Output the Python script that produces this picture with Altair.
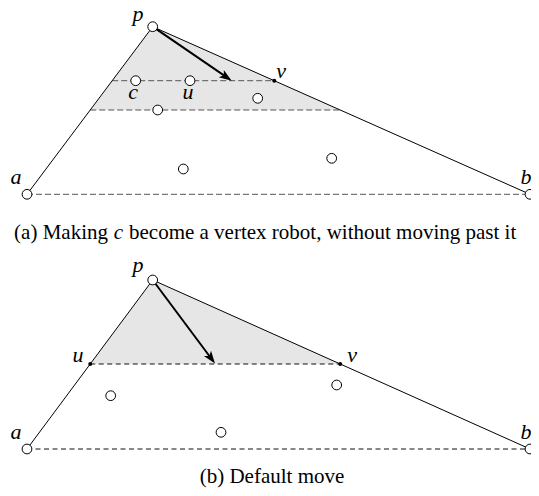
import math
import altair as alt
import pandas as pd

# ---------------- geometry (diagram units, y grows downward) ----------------
# panel (a)
a_corner_x = [27.0, 530.0, 152.7]   # a, b, p
a_corner_y = [194.3, 194.3, 26.7]
a_robot_x = [135.7, 190.0, 257.7, 157.7, 183.3, 331.7]
a_robot_y = [80.7, 80.7, 98.3, 110.0, 169.0, 158.3]
a_vertex_y = [80.7]           # v lies on edge p-b at this height
a_cut_levels = [80.7, 110.0]  # dashed cuts
a_shade_level = 110.0
a_arrow_end = [231.7, 80.7]

# panel (b)
b_corner_x = [27.0, 530.0, 152.7]
b_corner_y = [449.0, 449.0, 280.0]
b_robot_x = [110.7, 336.7, 221.0]
b_robot_y = [395.7, 385.0, 432.3]
b_cut_levels = [364.0]
b_shade_level = 364.0
b_arrow_end = [215.0, 363.5]

captions = ["(a) Making ", "c", " become a vertex robot, without moving past it", "(b) Default move"]


def on_edge(y, x0, y0, x1, y1):
    t = (y - y0) / (y1 - y0)
    return x0 + t * (x1 - x0)


shade_rows, solid_rows, dash_rows, arrow_rows, head_rows = [], [], [], [], []
robot_rows, vertex_rows = [], []


def build(panel, cx, cy, rx, ry, shade, arrow_end, vertex_cut):
    ax, bx, px = cx
    ay, by, py = cy
    shade_rows.append(dict(panel=panel, y=py, x=px, x2=px))
    shade_rows.append(dict(panel=panel, y=shade,
                           x=on_edge(shade, ax, ay, px, py),
                           x2=on_edge(shade, bx, by, px, py)))
    solid_rows.append(dict(x=ax, y=ay, x2=px, y2=py))
    solid_rows.append(dict(x=px, y=py, x2=bx, y2=by))
    dash_rows.append(dict(panel=panel, x=ax, y=ay, x2=bx, y2=by))
    ex, ey = arrow_end
    dx, dy = ex - px, ey - py
    L = math.hypot(dx, dy)
    ux, uy = dx / L, dy / L
    unit = 7.2
    hx, hy = ex - unit * ux, ey - unit * uy
    arrow_rows.append(dict(x=px, y=py, x2=hx, y2=hy))
    head_rows.append(dict(x=hx, y=hy, angle=math.degrees(math.atan2(dx, -dy))))
    for x, y in zip(cx + rx, cy + ry):
        robot_rows.append(dict(x=x, y=y))
    for lv, side in vertex_cut:
        if side == "left":
            vertex_rows.append(dict(x=on_edge(lv, ax, ay, px, py), y=lv))
        else:
            vertex_rows.append(dict(x=on_edge(lv, bx, by, px, py), y=lv))


build("a", a_corner_x, a_corner_y, a_robot_x, a_robot_y, a_shade_level,
      a_arrow_end, [(a_vertex_y[0], "right")])
build("b", b_corner_x, b_corner_y, b_robot_x, b_robot_y, b_shade_level,
      b_arrow_end, [(b_cut_levels[0], "left"), (b_cut_levels[0], "right")])

# panel (a) cuts: upper one runs from edge a-p to v, lower one spans the triangle
ax_, bx_, px_ = a_corner_x
ay_, by_, py_ = a_corner_y
lv0, lv1 = a_cut_levels
dash_rows.append(dict(panel="a", x=on_edge(lv0, ax_, ay_, px_, py_), y=lv0,
                      x2=on_edge(lv0, bx_, by_, px_, py_), y2=lv0))
dash_rows.append(dict(panel="a", x=on_edge(lv1, ax_, ay_, px_, py_), y=lv1,
                      x2=on_edge(lv1, bx_, by_, px_, py_), y2=lv1))
# panel (b) cut u-v
bl = b_cut_levels[0]
dash_rows.append(dict(panel="b",
                      x=on_edge(bl, b_corner_x[0], b_corner_y[0], b_corner_x[2], b_corner_y[2]), y=bl,
                      x2=on_edge(bl, b_corner_x[1], b_corner_y[1], b_corner_x[2], b_corner_y[2]), y2=bl))

# point labels (text, x, baseline y)
label_rows = [
    dict(t="p", x=138, y=21), dict(t="v", x=281, y=78), dict(t="c", x=133, y=99),
    dict(t="u", x=188, y=99), dict(t="a", x=16, y=184), dict(t="b", x=526, y=184),
    dict(t="p", x=138, y=272), dict(t="u", x=78, y=362), dict(t="v", x=352, y=362),
    dict(t="a", x=16, y=438.5), dict(t="b", x=526, y=438.5),
]

X = alt.Scale(domain=[8, 531], nice=False, zero=False)
Y = alt.Scale(domain=[8, 488], nice=False, zero=False, reverse=True)


def xe(f="x"):
    return alt.X(f"{f}:Q", scale=X, axis=None)


def ye(f="y"):
    return alt.Y(f"{f}:Q", scale=Y, axis=None)


shade = alt.Chart(pd.DataFrame(shade_rows)).mark_area(
    orient="horizontal", color="#e6e6e6", opacity=1
).encode(y=ye(), x=xe(), x2="x2:Q", detail="panel:N")

dfd = pd.DataFrame(dash_rows)
dash_a = alt.Chart(dfd[dfd.panel == "a"]).mark_rule(
    color="#555555", strokeDash=[6, 3], strokeWidth=1
).encode(x=xe(), y=ye(), x2="x2:Q", y2="y2:Q")
dash_b = alt.Chart(dfd[dfd.panel == "b"]).mark_rule(
    color="#111111", strokeDash=[5, 3.5], strokeWidth=1
).encode(x=xe(), y=ye(), x2="x2:Q", y2="y2:Q")

solid = alt.Chart(pd.DataFrame(solid_rows)).mark_rule(
    color="black", strokeWidth=1
).encode(x=xe(), y=ye(), x2="x2:Q", y2="y2:Q")

arrow = alt.Chart(pd.DataFrame(arrow_rows)).mark_rule(
    color="black", strokeWidth=2
).encode(x=xe(), y=ye(), x2="x2:Q", y2="y2:Q")

head = alt.Chart(pd.DataFrame(head_rows)).mark_point(
    shape="M0,-1 L0.62,0.75 L0,0.32 L-0.62,0.75 Z", filled=True, color="black",
    size=207, opacity=1, strokeWidth=0
).encode(x=xe(), y=ye(), angle=alt.Angle("angle:Q", scale=None))

robots = alt.Chart(pd.DataFrame(robot_rows)).mark_point(
    shape="circle", size=95, fill="white", stroke="black", strokeWidth=1, opacity=1,
    filled=False
).encode(x=xe(), y=ye())

vertices = alt.Chart(pd.DataFrame(vertex_rows)).mark_point(
    shape="circle", size=16, filled=True, color="black", opacity=1
).encode(x=xe(), y=ye())

labels = alt.Chart(pd.DataFrame(label_rows)).mark_text(
    font="Liberation Serif", fontStyle="italic", fontSize=22, baseline="alphabetic",
    align="center", color="black"
).encode(x=xe(), y=ye(), text="t:N")

FS = 21
cap_rows = [
    dict(t=captions[0].rstrip(), x=108, y=239, part="r"),
    dict(t=captions[2].lstrip(), x=129, y=239, part="l"),
    dict(t=captions[3], x=272, y=483, part="c"),
]
capdf = pd.DataFrame(cap_rows)
cap_r = alt.Chart(capdf[capdf.part == "r"]).mark_text(
    font="Liberation Serif", fontSize=FS, align="right", baseline="alphabetic", color="black"
).encode(x=xe(), y=ye(), text="t:N")
cap_l = alt.Chart(capdf[capdf.part == "l"]).mark_text(
    font="Liberation Serif", fontSize=FS, align="left", baseline="alphabetic", color="black"
).encode(x=xe(), y=ye(), text="t:N")
cap_c = alt.Chart(capdf[capdf.part == "c"]).mark_text(
    font="Liberation Serif", fontSize=FS, align="center", baseline="alphabetic", color="black"
).encode(x=xe(), y=ye(), text="t:N")
cap_i = alt.Chart(pd.DataFrame([dict(t=captions[1], x=118.5, y=239)])).mark_text(
    font="Liberation Serif", fontStyle="italic", fontSize=FS, align="center",
    baseline="alphabetic", color="black"
).encode(x=xe(), y=ye(), text="t:N")

chart = alt.layer(
    shade, dash_a, dash_b, solid, arrow, head, robots, vertices, labels,
    cap_r, cap_i, cap_l, cap_c
).properties(
    width=523, height=480, padding=0,
    autosize=alt.AutoSizeParams(type="none")
).configure_view(stroke=None)

chart.save("out.html", embed_options={"renderer": "svg", "actions": False})
